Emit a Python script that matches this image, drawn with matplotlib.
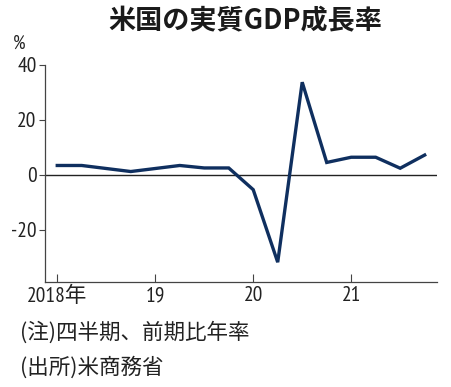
import matplotlib
matplotlib.use("Agg")
import matplotlib.pyplot as plt

plt.rcParams["font.family"] = ["Noto Sans CJK JP", "DejaVu Sans"]

# quarterly, annualized q/q growth (%), 2018Q1 .. 2021Q4
quarters = list(range(16))
growth = [3.4, 3.4, 2.3, 1.2, 2.3, 3.4, 2.5, 2.5,
          -5.4, -31.8, 33.7, 4.5, 6.4, 6.4, 2.4, 7.2]
year_ticks = [0, 4, 8, 12]
year_labels = ["2018年", "19", "20", "21"]
y_ticks = [-20, 0, 20, 40]
y_labels = ["-20", "0", "20", "40"]

fig = plt.figure(figsize=(4.51, 3.87), dpi=100)
ax = fig.add_axes([0.0998, 0.2713, 0.869, 0.561])

ax.axhline(0, color="#222222", lw=1.0, zorder=1)
ax.plot(quarters, growth, color="#0f2f5f", lw=2.4, solid_joinstyle="miter", zorder=2)

ax.set_xlim(-0.5, 15.5)
ax.set_ylim(-39, 40)
ax.set_xticks(year_ticks)
ax.set_xticklabels(year_labels)
ax.set_yticks(y_ticks)
ax.set_yticklabels(y_labels)

tick_font = ["PT Sans Narrow", "Noto Sans CJK JP"]
for lab in ax.get_xticklabels() + ax.get_yticklabels():
    lab.set_family(tick_font)
    lab.set_fontsize(15.5)
    lab.set_color("#222222")

ax.tick_params(axis="x", direction="in", length=6, width=0.8, color="#444444", pad=3)
ax.tick_params(axis="y", direction="out", length=4, width=0.8, color="#444444", pad=2)

for s in ["top", "right"]:
    ax.spines[s].set_visible(False)
for s in ["left", "bottom"]:
    ax.spines[s].set_color("#444444")
    ax.spines[s].set_linewidth(0.9)

fig.text(0.543, 0.945, "米国の実質GDP成長率", ha="center", va="center",
         fontsize=19.5, fontweight="bold", color="#1a1a1a")
fig.text(0.028, 0.888, "%", ha="left", va="center", fontsize=14,
         color="#222222", family=["PT Sans Narrow", "DejaVu Sans"])
fig.text(0.045, 0.140, "(注)四半期、前期比年率", ha="left", va="center",
         fontsize=15.5, color="#222222")
fig.text(0.045, 0.050, "(出所)米商務省", ha="left", va="center",
         fontsize=15.5, color="#222222")

fig.savefig("out.png", dpi=100)
